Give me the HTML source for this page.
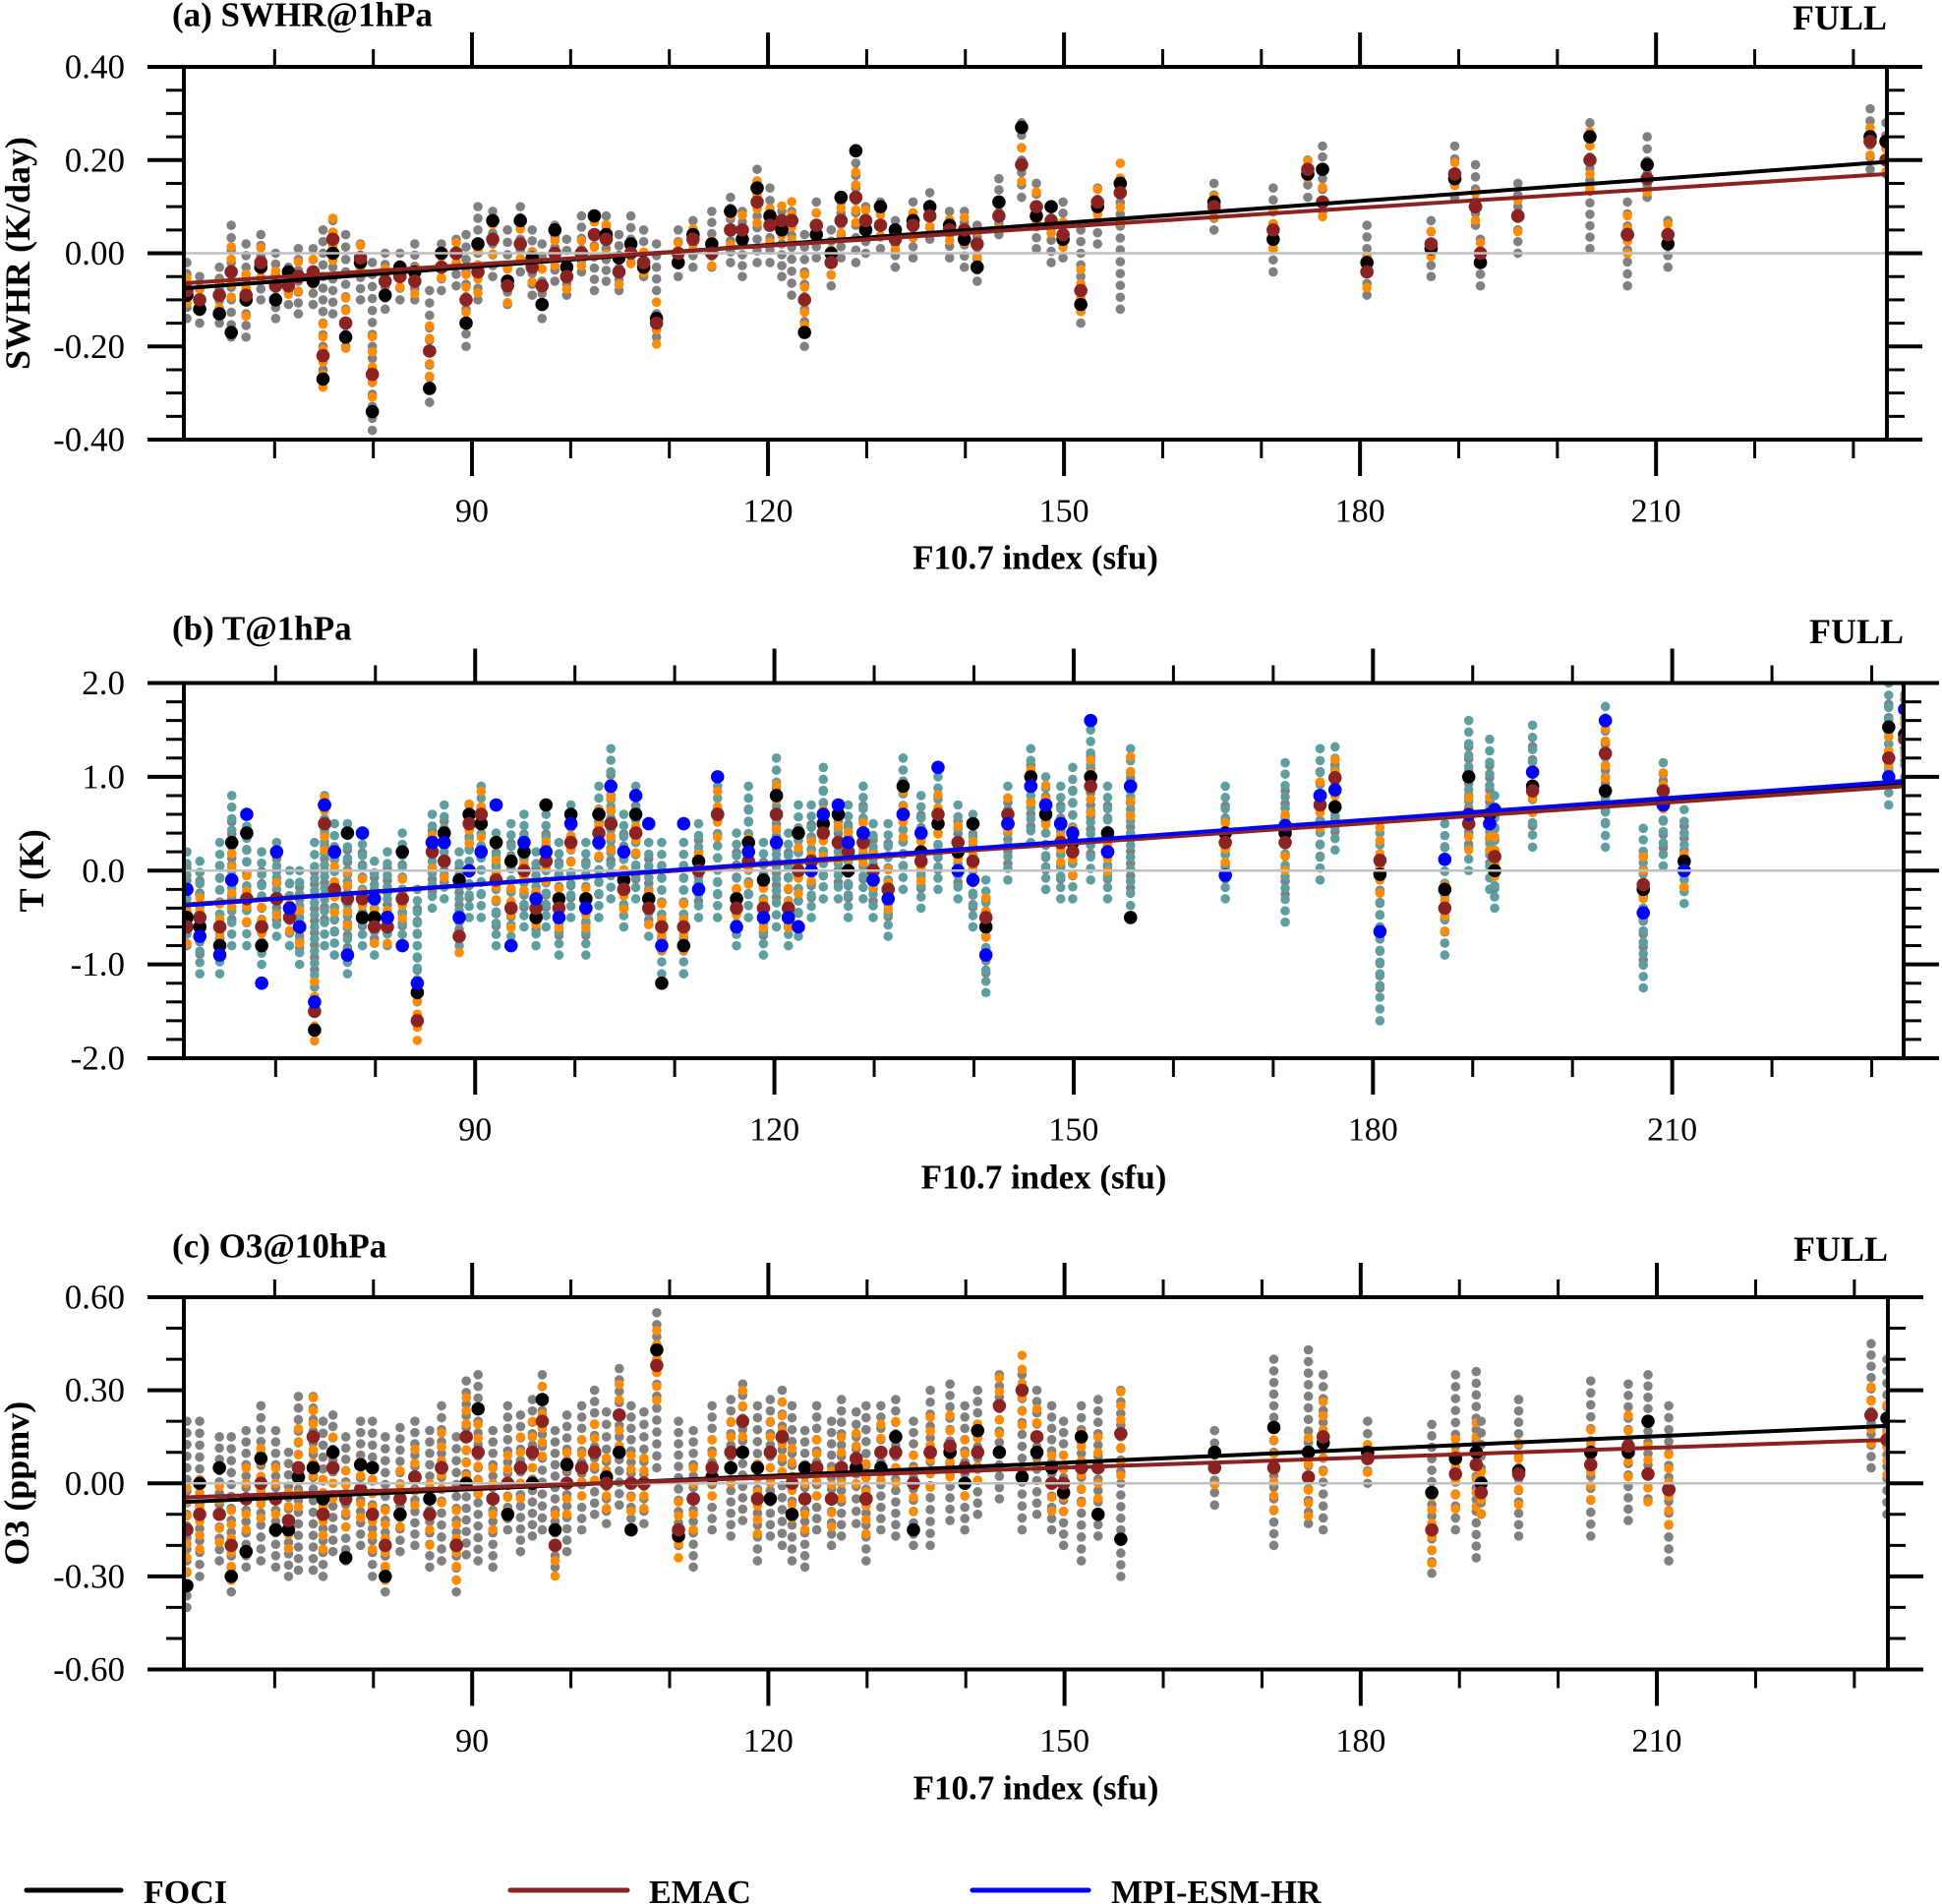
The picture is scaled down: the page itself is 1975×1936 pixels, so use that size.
<!DOCTYPE html>
<html>
<head>
<meta charset="utf-8">
<style>
html,body{margin:0;padding:0;background:#fff;}
svg{display:block;}
text{font-family:"Liberation Serif",serif;fill:#000;}
</style>
</head>
<body>
<svg id="fig" xmlns="http://www.w3.org/2000/svg" width="1975" height="1936" viewBox="0 0 1975 1936">
  <defs>
    <clipPath id="clipA"><rect x="187" y="68" width="1732" height="379"/></clipPath>
    <clipPath id="clipB"><rect x="187" y="694.5" width="1749" height="381.5"/></clipPath>
    <clipPath id="clipC"><rect x="187" y="1319" width="1733" height="378.5"/></clipPath>
  </defs>
  <g id="legend">
    <line x1="27" y1="1922" x2="123" y2="1922" stroke="#000" stroke-width="5" stroke-linecap="round"/>
    <text x="146" y="1935" font-size="34" font-weight="bold">FOCI</text>
    <line x1="519" y1="1922" x2="638" y2="1922" stroke="#8b2323" stroke-width="5" stroke-linecap="round"/>
    <text x="660" y="1935" font-size="34" font-weight="bold">EMAC</text>
    <line x1="989" y1="1922" x2="1107" y2="1922" stroke="#0000ff" stroke-width="5" stroke-linecap="round"/>
    <text x="1130" y="1935" font-size="34" font-weight="bold">MPI-ESM-HR</text>
  </g>
</svg>
<script>
const months=[61.1,62.4,64.4,65.6,67.1,68.6,70.1,71.4,72.4,73.9,
74.9,75.9,77.2,78.7,79.9,81.2,82.7,84.2,85.7,86.9,
88.4,89.4,90.6,92.1,93.6,94.9,96.1,97.1,98.4,99.6,
101.1,102.4,103.6,104.9,106.1,107.4,108.7,110.9,112.4,114.3,
116.2,117.4,118.9,120.2,121.4,122.4,123.7,124.9,126.4,127.4,
128.9,129.9,131.4,132.9,134.7,136.4,138.4,139.9,141.2,143.4,
145.7,147.2,148.7,149.9,151.7,153.4,155.7,
165.2,171.2,174.7,176.2,180.7,187.2,189.6,191.7,192.2,196.0,203.3,207.1,209.1,211.2,231.7,233.3];

const aCenter=[-0.08,-0.1,-0.09,-0.06,-0.08,-0.03,-0.07,-0.07,-0.06,-0.05,
-0.1,-0.03,-0.08,-0.04,-0.2,-0.06,-0.05,-0.04,-0.2,-0.03,
-0.02,-0.08,0.0,0.02,-0.03,0.03,-0.02,-0.06,0.0,-0.03,
0.02,-0.02,0.01,-0.02,0.03,0.0,-0.08,0.0,0.02,0.03,
0.05,0.02,0.08,0.06,0.02,0.0,-0.08,0.05,-0.01,0.05,
0.1,0.05,0.06,0.02,0.05,0.08,0.04,0.03,0.0,0.1,
0.2,0.08,0.04,0.05,-0.05,0.08,0.02,
0.1,0.05,0.16,0.16,-0.015,0.01,0.175,0.125,-0.02,0.075,0.145,0.02,0.185,0.02,0.245,0.225];
const aSpread=[0.06,0.05,0.06,0.12,0.1,0.07,0.07,0.04,0.07,0.06,
0.15,0.1,0.12,0.06,0.18,0.06,0.05,0.06,0.12,0.05,
0.05,0.12,0.1,0.07,0.08,0.07,0.07,0.08,0.06,0.06,
0.06,0.06,0.07,0.06,0.05,0.05,0.1,0.05,0.05,0.06,
0.07,0.07,0.1,0.08,0.07,0.09,0.12,0.06,0.06,0.06,
0.12,0.05,0.05,0.05,0.06,0.05,0.05,0.06,0.06,0.06,
0.08,0.07,0.06,0.06,0.1,0.06,0.14,
0.05,0.09,0.04,0.07,0.075,0.06,0.055,0.065,0.05,0.075,0.135,0.09,0.065,0.05,0.065,0.055];
const aFoci=[-0.09,-0.12,-0.13,-0.17,-0.1,-0.03,-0.1,-0.04,-0.05,-0.06,
-0.27,0.0,-0.18,-0.02,-0.34,-0.09,-0.03,-0.04,-0.29,0.0,
0.0,-0.15,0.02,0.07,-0.06,0.07,-0.01,-0.11,0.05,-0.03,
0.0,0.08,0.04,-0.01,0.02,-0.03,-0.14,-0.02,0.04,0.02,
0.09,0.03,0.14,0.08,0.05,0.07,-0.17,0.04,0.0,0.12,
0.22,0.05,0.1,0.05,0.07,0.1,0.06,0.03,-0.03,0.11,
0.27,0.08,0.1,0.03,-0.11,0.1,0.15,
0.11,0.03,0.17,0.18,-0.02,0.01,0.16,0.1,-0.02,0.08,0.25,0.04,0.19,0.02,0.25,0.24];
const aEmac=[-0.08,-0.1,-0.09,-0.04,-0.09,-0.02,-0.07,-0.07,-0.05,-0.04,
-0.22,0.03,-0.15,-0.01,-0.26,-0.06,-0.05,-0.06,-0.21,-0.03,
0.0,-0.1,-0.04,0.03,-0.07,0.02,-0.03,-0.07,0.0,-0.05,
0.0,0.04,0.03,-0.04,0.0,-0.02,-0.15,0.0,0.03,0.0,
0.05,0.05,0.11,0.06,0.07,0.07,-0.1,0.06,-0.02,0.07,
0.12,0.07,0.06,0.03,0.06,0.08,0.05,0.05,0.02,0.08,
0.19,0.1,0.07,0.04,-0.08,0.11,0.13,
0.1,0.05,0.18,0.11,-0.04,0.02,0.17,0.1,0.0,0.08,0.2,0.04,0.16,0.04,0.24,0.2];

const bCenter=[-0.3,-0.5,-0.4,0.0,-0.1,-0.4,-0.2,-0.4,-0.5,-0.6,
0.0,-0.2,-0.3,-0.2,-0.4,-0.3,-0.2,-0.8,0.1,0.2,
-0.3,0.1,0.2,-0.2,-0.1,0.0,-0.3,0.0,-0.3,0.1,
-0.3,0.2,0.5,0.0,0.3,-0.2,-0.4,-0.4,0.0,0.2,
-0.2,0.2,-0.3,0.3,-0.2,0.0,0.1,0.4,0.2,0.1,
0.3,0.0,-0.1,0.5,0.2,0.4,0.2,0.0,-0.7,0.4,
0.8,0.4,0.3,0.4,0.7,0.3,0.4,
0.3,0.3,0.6,0.77,-0.6,-0.2,0.8,0.6,0.2,0.9,1.0,-0.4,0.6,0.15,1.35,1.5];
const bSpread=[0.5,0.6,0.7,0.8,0.7,0.6,0.5,0.4,0.5,0.9,
0.8,0.7,0.8,0.6,0.5,0.5,0.6,0.6,0.5,0.5,
0.5,0.6,0.7,0.6,0.6,0.6,0.5,0.6,0.6,0.6,
0.6,0.7,0.8,0.6,0.6,0.5,0.7,0.7,0.5,0.7,
0.6,0.7,0.6,0.9,0.6,0.7,0.6,0.7,0.5,0.6,
0.6,0.5,0.6,0.7,0.6,0.6,0.5,0.6,0.6,0.5,
0.5,0.6,0.6,0.7,0.8,0.6,0.9,
0.6,0.85,0.7,0.55,1.0,0.7,0.8,0.8,0.6,0.65,0.75,0.85,0.55,0.5,0.65,0.5];
const bFoci=[-0.5,-0.6,-0.8,0.3,0.4,-0.8,-0.3,-0.4,-0.6,-1.7,
0.7,0.2,0.4,-0.5,-0.5,-0.5,0.2,-1.3,0.3,0.4,
-0.1,0.6,0.5,0.3,0.1,0.2,-0.5,0.7,-0.3,0.6,
-0.3,0.6,0.5,-0.1,0.6,-0.3,-1.2,-0.8,0.1,0.6,
-0.3,0.3,-0.1,0.8,-0.5,0.4,0.1,0.5,0.6,0.0,
0.4,0.0,-0.2,0.9,0.2,0.5,0.2,0.5,-0.6,0.5,
1.0,0.6,0.5,0.3,1.0,0.4,-0.5,
0.4,0.4,0.8,0.68,-0.04,-0.2,1.0,0.6,0.0,0.9,0.85,-0.2,0.7,0.1,1.53,1.45];
const bEmac=[-0.6,-0.5,-0.6,-0.1,-0.3,-0.6,-0.3,-0.5,-0.6,-1.5,
0.5,-0.2,-0.3,-0.3,-0.6,-0.6,-0.3,-1.6,0.2,0.1,
-0.7,0.5,0.6,-0.1,-0.4,0.0,-0.4,0.1,-0.4,0.3,
-0.4,0.4,0.5,-0.2,0.4,-0.4,-0.6,-0.6,0.0,0.6,
-0.4,0.1,-0.4,0.6,-0.4,0.0,0.1,0.4,0.3,0.2,
0.3,0.0,-0.2,0.6,0.1,0.6,0.3,0.1,-0.5,0.6,
0.9,0.7,0.3,0.2,0.9,0.2,0.9,
0.3,0.3,0.7,0.99,0.11,-0.4,0.5,0.5,0.15,0.85,1.25,-0.15,0.85,0.0,1.2,1.4];
const bMpi=[-0.2,-0.7,-0.9,-0.1,0.6,-1.2,0.2,-0.4,-0.6,-1.4,
0.7,0.2,-0.9,0.4,-0.3,-0.5,-0.8,-1.2,0.3,0.3,
-0.5,0.0,0.2,0.7,-0.8,0.3,-0.3,0.2,-0.5,0.5,
-0.4,0.3,0.9,0.2,0.8,0.5,-0.8,0.5,-0.2,1.0,
-0.6,0.2,-0.5,0.3,-0.5,-0.6,0.0,0.6,0.7,0.3,
0.4,-0.1,-0.3,0.6,0.4,1.1,0.0,-0.1,-0.9,0.5,
0.9,0.7,0.5,0.4,1.6,0.2,0.9,
-0.05,0.48,0.8,0.86,-0.65,0.12,0.6,0.5,0.65,1.05,1.6,-0.45,0.7,0.0,1.0,1.72];

const cCenter=[-0.1,-0.05,-0.05,-0.1,-0.05,0.0,-0.05,-0.1,0.0,0.0,
-0.05,0.0,-0.05,0.0,-0.05,-0.1,-0.02,0.0,-0.05,0.0,
-0.1,0.05,0.05,-0.05,0.05,0.0,0.05,0.1,-0.05,0.0,
0.05,0.1,0.05,0.15,0.05,0.05,0.3,0.0,-0.05,0.05,
0.05,0.1,0.0,0.05,0.05,0.0,-0.05,0.05,0.0,0.05,
0.05,0.0,0.05,0.05,0.0,0.05,0.1,0.05,0.1,0.15,
0.1,0.1,0.05,0.0,0.0,0.05,0.0,
0.05,0.1,0.15,0.1,0.1,-0.05,0.1,0.06,0.05,0.05,0.08,0.1,0.15,0.0,0.25,0.15];
const cSpread=[0.3,0.25,0.2,0.25,0.22,0.25,0.22,0.2,0.28,0.28,
0.25,0.22,0.2,0.2,0.25,0.25,0.2,0.2,0.22,0.25,
0.25,0.28,0.3,0.22,0.2,0.22,0.22,0.25,0.22,0.22,
0.2,0.2,0.18,0.22,0.2,0.18,0.25,0.2,0.22,0.2,
0.22,0.22,0.25,0.22,0.25,0.25,0.22,0.2,0.2,0.22,
0.18,0.25,0.2,0.22,0.2,0.25,0.22,0.2,0.2,0.2,
0.25,0.2,0.2,0.2,0.25,0.22,0.3,
0.12,0.3,0.28,0.25,0.1,0.24,0.25,0.3,0.15,0.22,0.25,0.22,0.2,0.25,0.2,0.25];
const cFoci=[-0.33,0.0,0.05,-0.3,-0.22,0.08,-0.15,-0.15,0.02,0.05,
-0.05,0.1,-0.24,0.06,0.05,-0.3,-0.1,0.02,-0.05,0.05,
-0.2,0.0,0.24,-0.05,-0.1,0.05,0.0,0.27,-0.15,0.06,
0.05,0.1,0.02,0.1,-0.15,0.0,0.43,-0.17,-0.05,0.02,
0.05,0.1,0.05,-0.05,0.15,-0.1,0.05,0.05,-0.05,0.05,
0.05,-0.05,0.05,0.15,-0.15,0.1,0.1,0.0,0.17,0.1,
0.02,0.1,0.05,-0.03,0.15,-0.1,-0.18,
0.1,0.18,0.1,0.13,0.1,-0.03,0.08,0.1,0.0,0.04,0.1,0.1,0.2,-0.02,0.22,0.21];
const cEmac=[-0.15,-0.1,-0.1,-0.2,-0.05,0.0,-0.05,-0.12,0.05,0.15,
-0.1,0.05,-0.05,-0.02,-0.1,-0.2,-0.05,0.02,-0.1,0.05,
-0.2,0.15,0.1,-0.05,0.0,0.05,0.1,0.2,-0.2,0.0,
0.05,0.1,0.0,0.22,0.0,0.0,0.38,-0.15,-0.05,0.05,
0.1,0.2,-0.05,0.1,0.15,0.0,-0.05,0.05,-0.05,0.05,
0.08,-0.05,0.1,0.1,0.0,0.1,0.12,0.05,0.1,0.25,
0.3,0.15,0.0,0.0,0.05,0.05,0.16,
0.05,0.05,0.02,0.15,0.08,-0.15,0.03,0.06,-0.03,0.03,0.06,0.12,0.03,-0.02,0.22,0.14];

const trendX=[61.0,233.3];
const aTrendFoci=[-0.075,0.196];
const aTrendEmac=[-0.064,0.17];
const bTrendFoci=[-0.37,0.93];
const bTrendEmac=[-0.36,0.90];
const bTrendMpi=[-0.37,0.957];
const cTrendFoci=[-0.06,0.185];
const cTrendEmac=[-0.045,0.14];

const xTickLabels=[90,120,150,180,210];
const xMinorTicks=[70,80,100,110,130,140,160,170,190,200,220,230];
const aYTicks=[0.4,0.2,0,-0.2,-0.4];
const bYTicks=[2,1,0,-1,-2];
const cYTicks=[0.6,0.3,0,-0.3,-0.6];

const NS='http://www.w3.org/2000/svg';
const svg=document.getElementById('fig');
function mk(tag,attrs,parent){const e=document.createElementNS(NS,tag);for(const k in attrs)e.setAttribute(k,attrs[k]);(parent||svg).appendChild(e);return e;}

function drawPanel(p){
  const g=mk('g',{});
  
  
  const xs=v=>p.left+(v-p.xmin)/(p.xmax-p.xmin)*(p.right-p.left);
  const ys=v=>p.bottom-(v-p.ymin)/(p.ymax-p.ymin)*(p.bottom-p.top);
  const dots=mk('g',{'clip-path':'url(#'+p.clip+')'},g);
  
  
  function stack(x,c,s,color,r,name,gap){
    const lo=ys(c-s),hi=ys(c+s);
    const n=Math.max(1,Math.round((lo-hi)/gap))+1;
    for(let i=0;i<n;i++){
      const yy=n===1?ys(c):hi+i*(lo-hi)/(n-1);
      const d=mk('circle',{cx:x,cy:yy,r:r,fill:color},dots);
      
      
    }
  }
  months.forEach((m,i)=>{
    const x=xs(m);
    if(p.mpi){
      stack(x,p.center[i],p.spread[i]*0.65,'#808080',4.8,'foci-member-dot',13);
      stack(x,p.center[i],p.spread[i],'#5f9ea0',4.8,'mpi-member-dot',12);
      stack(x,p.emac[i],p.spread[i]*0.35,'#ff8c00',4.8,'emac-member-dot',14);
    }else{
      stack(x,p.center[i],p.spread[i],'#808080',4.8,'foci-member-dot',12);
      stack(x,p.emac[i],p.spread[i]*0.45,'#ff8c00',4.8,'emac-member-dot',14);
    }
  });
  months.forEach((m,i)=>{
    const x=xs(m);
    const f=mk('circle',{cx:x,cy:ys(p.foci[i]),r:6.8,fill:'#000'},dots);
    
    
    const e=mk('circle',{cx:x,cy:ys(p.emac[i]),r:6.8,fill:'#8b2323'},dots);
    
    
    if(p.mpi){
      const b=mk('circle',{cx:x,cy:ys(p.mpi[i]),r:6.8,fill:'#0000ff'},dots);
      
      
    }
  });
  const z=mk('line',{x1:p.left,x2:p.right,y1:ys(0),y2:ys(0),stroke:'#c0c0c0','stroke-width':2.5},g);
  
  
  p.trends.forEach(t=>{
    const l=mk('line',{x1:xs(trendX[0]),y1:ys(t.v[0]),x2:xs(trendX[1]),y2:ys(t.v[1]),stroke:t.c,'stroke-width':4},g);
    
    
  });
  const fr=mk('rect',{x:p.left,y:p.top,width:p.right-p.left,height:p.bottom-p.top,fill:'none',stroke:'#000','stroke-width':4},g);
  
  
  xTickLabels.forEach(v=>{
    const x=xs(v);
    const t1=mk('line',{x1:x,x2:x,y1:p.bottom,y2:p.bottom+37,stroke:'#000','stroke-width':4},g);
    
    
    const t2=mk('line',{x1:x,x2:x,y1:p.top,y2:p.top-35,stroke:'#000','stroke-width':4},g);
    
    
    const lb=mk('text',{x:x,y:p.bottom+73,'text-anchor':'middle','dominant-baseline':'central','font-size':34},g);
    lb.textContent=String(v);
    
    
  });
  xMinorTicks.forEach(v=>{
    const x=xs(v);
    if(x>p.right)return;
    const t1=mk('line',{x1:x,x2:x,y1:p.bottom,y2:p.bottom+19,stroke:'#000','stroke-width':3},g);
    
    
    const t2=mk('line',{x1:x,x2:x,y1:p.top,y2:p.top-18,stroke:'#000','stroke-width':3},g);
    
    
  });
  p.yTicks.forEach(v=>{
    const y=ys(v);
    const t1=mk('line',{x1:p.left-37,x2:p.left,y1:y,y2:y,stroke:'#000','stroke-width':4},g);
    
    
    const t2=mk('line',{x1:p.right,x2:p.right+36,y1:y,y2:y,stroke:'#000','stroke-width':4},g);
    
    
    const lb=mk('text',{x:127,y:y,'text-anchor':'end','dominant-baseline':'central','font-size':35},g);
    lb.textContent=v.toFixed(p.dec);
    
    
  });
  for(let v=p.ymin;v<=p.ymax+1e-9;v+=p.minor){
    const y=ys(v);
    const t1=mk('line',{x1:p.left-18,x2:p.left,y1:y,y2:y,stroke:'#000','stroke-width':3},g);
    
    
    const t2=mk('line',{x1:p.right,x2:p.right+18,y1:y,y2:y,stroke:'#000','stroke-width':3},g);
    
    
  }
  const xt=mk('text',{x:(p.left+p.right)/2,y:p.xTitleY,'text-anchor':'middle','dominant-baseline':'central','font-size':35,'font-weight':'bold'},g);
  xt.textContent='F10.7 index (sfu)';
  
  
  const cy=(p.top+p.bottom)/2;
  const yt=mk('text',{x:p.yTitleX,y:cy,'text-anchor':'middle','dominant-baseline':'central','font-size':36,'font-weight':'bold',transform:'rotate(-90 '+p.yTitleX+' '+cy+')'},g);
  yt.textContent=p.yTitle;
  
  
  const tt=mk('text',{x:175,y:p.titleY,'dominant-baseline':'central','font-size':35,'font-weight':'bold'},g);
  tt.textContent=p.title;
  
  
  const fl=mk('text',{x:p.right,y:p.titleY+3,'text-anchor':'end','dominant-baseline':'central','font-size':36,'font-weight':'bold'},g);
  fl.textContent='FULL';
  
  
}

drawPanel({id:'panel-a',clip:'clipA',left:187,right:1919,top:68,bottom:447,xmin:60.8,xmax:233.4,ymin:-0.4,ymax:0.4,minor:0.05,dec:2,
  yTicks:aYTicks,center:aCenter,spread:aSpread,foci:aFoci,emac:aEmac,
  trends:[{n:'foci',c:'#000',v:aTrendFoci},{n:'emac',c:'#8b2323',v:aTrendEmac}],
  xTitleY:567,yTitleX:18,yTitle:'SWHR (K/day)',title:'(a) SWHR@1hPa',titleY:15});
drawPanel({id:'panel-b',clip:'clipB',left:187,right:1936,top:694.5,bottom:1076,xmin:60.8,xmax:233.2,ymin:-2,ymax:2,minor:0.2,dec:1,
  yTicks:bYTicks,center:bCenter,spread:bSpread,foci:bFoci,emac:bEmac,mpi:bMpi,
  trends:[{n:'foci',c:'#000',v:bTrendFoci},{n:'emac',c:'#8b2323',v:bTrendEmac},{n:'mpi',c:'#0000ff',v:bTrendMpi}],
  xTitleY:1197,yTitleX:32,yTitle:'T (K)',title:'(b) T@1hPa',titleY:639});
drawPanel({id:'panel-c',clip:'clipC',left:187,right:1920,top:1319,bottom:1697.5,xmin:60.8,xmax:233.4,ymin:-0.6,ymax:0.6,minor:0.1,dec:2,
  yTicks:cYTicks,center:cCenter,spread:cSpread,foci:cFoci,emac:cEmac,
  trends:[{n:'foci',c:'#000',v:cTrendFoci},{n:'emac',c:'#8b2323',v:cTrendEmac}],
  xTitleY:1818,yTitleX:17,yTitle:'O3 (ppmv)',title:'(c) O3@10hPa',titleY:1267});
</script>
</body>
</html>
